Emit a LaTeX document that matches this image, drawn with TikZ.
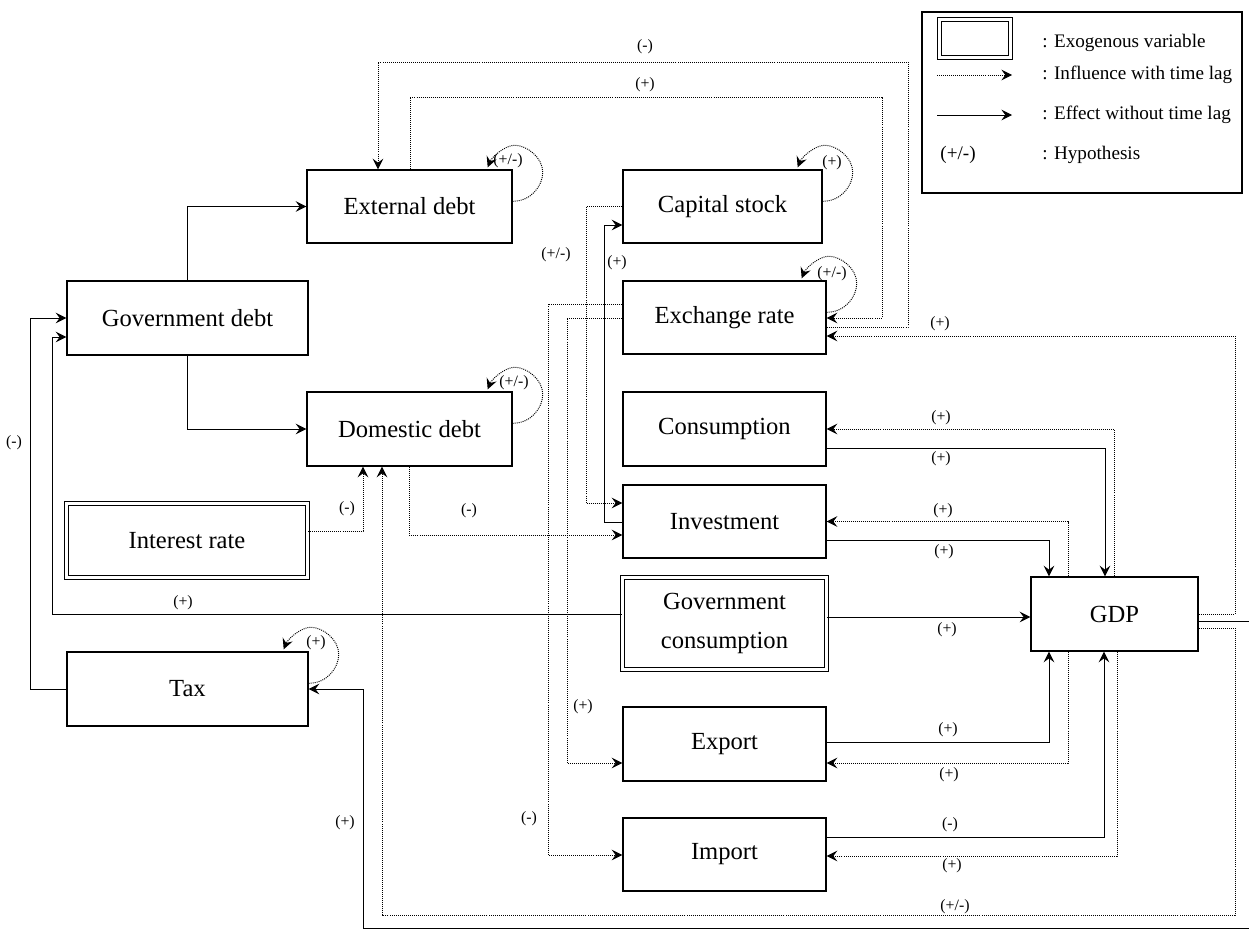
\documentclass[tikz,border=0pt]{standalone}
\usepackage{fontspec}
\setmainfont{Liberation Serif}
\usetikzlibrary{arrows.meta,calc}
\tikzset{
  box/.style={draw=black, line width=0.8pt, fill=white, inner sep=0pt, align=center,
    font=\fontsize{14}{16}\selectfont},
  exo/.style={box, double, double distance=1.6pt, line width=0.75pt},
  sz/.style 2 args={minimum width=#1*0.02cm, minimum height=#2*0.02cm},
  tip/.style={-{Stealth[length=6pt,width=6pt,inset=2.2pt]}},
  eff/.style={line width=0.55pt, tip},
  lag/.style={line width=0.55pt, dash pattern=on 0.55pt off 0.6pt, tip},
  lbl/.style={font=\fontsize{9}{10}\selectfont, inner sep=0pt},
  legt/.style={font=\fontsize{10.9}{13}\selectfont, inner sep=0pt},
}
\newcommand{\sloop}[1]{\draw[lag] ($(#1.north east)+(0,32)$) .. controls +(18,0) and +(0,14) .. ++(30,-29) .. controls +(0,-15) and +(12,0) .. ++(-28,-27) .. controls +(-10,0) and +(4,-10) .. ++(-27,22);}
\begin{document}
\begin{tikzpicture}[x=0.02cm,y=-0.02cm]
\useasboundingbox (0,0) rectangle (1249,930);
\clip (0,0) rectangle (1249,930);

% boxes
\node[box,sz={205}{73}] (ext) at (409.5,206.5) {External debt};
\node[box,sz={199}{73}] (cap) at (722.5,206.5) {Capital stock};
\node[box,sz={241}{74}] (gov) at (187.5,318) {Government debt};
\node[box,sz={203}{73}] (exr) at (724.5,317.5) {Exchange rate};
\node[box,sz={205}{74}] (dom) at (409.5,429) {Domestic debt};
\node[box,sz={203}{74}] (cons) at (724.5,429) {Consumption};
\node[box,sz={203}{73}] (inv) at (724.5,521.5) {Investment};
\node[exo,sz={241}{74}] (ir) at (187,540.5) {Interest rate};
\node[exo,sz={204}{92},font=\fontsize{14}{22}\selectfont] (gc) at (724.5,623.5) {Government\\consumption};
\node[box,sz={167}{74}] (gdp) at (1114.5,614) {GDP};
\node[box,sz={241}{74}] (tax) at (187.5,689) {Tax};
\node[box,sz={203}{74}] (exp) at (724.5,744) {Export};
\node[box,sz={203}{73}] (imp) at (724.5,854.5) {Import};

% self loops
\sloop{ext}
\sloop{cap}
\sloop{exr}
\sloop{dom}
\sloop{tax}

% government debt split
\draw[eff] (gov.north) |- (ext.west);
\draw[eff] (gov.south) |- (dom.west);
\draw[eff] (tax.west) -| (30,318) -- (gov.west);
\draw[eff] (gc.west |- 0,614) -| (52,337) -- (gov.west |- 0,337);

% interest rate and domestic debt
\draw[lag] (ir.east |- 0,531) -| (dom.south -| 363,0);
\draw[lag] (dom.south -| 409,0) |- (inv.west |- 0,535);
\draw[lag] (gdp.east |- 0,628) -| (1235,915) -| (dom.south -| 382,0);
\draw[eff] (gdp.east |- 0,621) -| (1262,928.8) -| (363,689) -- (tax.east);

% external debt <-> exchange rate
\draw[lag] (ext.north -| 410,0) |- (882,97) |- (exr.east |- 0,318);
\draw[lag] (exr.east |- 0,327) -| (908,62) -| (ext.north -| 378,0);
\draw[lag] (gdp.east |- 0,614) -| (1235,336) -- (exr.east |- 0,336);

% capital stock / investment
\draw[lag] (cap.west) -| (586,503) -- (inv.west |- 0,503);
\draw[eff] (inv.west |- 0,522) -| (604,225) -- (cap.west |- 0,225);

% exchange rate -> export / import
\draw[lag] (exr.west |- 0,304) -| (548,855) -- (imp.west |- 0,855);
\draw[lag] (exr.west |- 0,318) -| (567,763) -- (exp.west |- 0,763);

% GDP components
\draw[lag] (gdp.north -| 1114,0) |- (cons.east);
\draw[eff] (cons.east |- 0,448) -| (gdp.north -| 1105,0);
\draw[lag] (gdp.north -| 1068,0) |- (inv.east);
\draw[eff] (inv.east |- 0,540) -| (gdp.north -| 1049,0);
\draw[eff] (gc.east |- 0,617) -- (gdp.west |- 0,617);
\draw[eff] (exp.east |- 0,742) -| (gdp.south -| 1049,0);
\draw[lag] (gdp.south -| 1068,0) |- (exp.east |- 0,763);
\draw[eff] (imp.east |- 0,837) -| (gdp.south -| 1104,0);
\draw[lag] (gdp.south -| 1117,0) |- (imp.east |- 0,856);

% labels
\node[lbl] (l1) at (645,47) {(-)};
\node[lbl] (l2) at (645,85) {(+)};
\node[lbl] (l3) at (508,161) {(+/-)};
\node[lbl] (l4) at (832,163) {(+)};
\node[lbl] (l5) at (832,274) {(+/-)};
\node[lbl] (l6) at (514,383) {(+/-)};
\node[lbl] (l7) at (316,643) {(+)};
\node[lbl] (l8) at (556,255) {(+/-)};
\node[lbl] (l9) at (617,263) {(+)};
\node[lbl] (l10) at (940,324) {(+)};
\node[lbl] (l11) at (941,418) {(+)};
\node[lbl] (l12) at (941,459) {(+)};
\node[lbl] (l13) at (943,511) {(+)};
\node[lbl] (l14) at (944,552) {(+)};
\node[lbl] (l15) at (347,509) {(-)};
\node[lbl] (l16) at (469,511) {(-)};
\node[lbl] (l17) at (14,443) {(-)};
\node[lbl] (l18) at (183,603) {(+)};
\node[lbl] (l19) at (947,630) {(+)};
\node[lbl] (l20) at (583,707) {(+)};
\node[lbl] (l21) at (948,730) {(+)};
\node[lbl] (l22) at (949,775) {(+)};
\node[lbl] (l23) at (529,819) {(-)};
\node[lbl] (l24) at (950,825) {(-)};
\node[lbl] (l25) at (952,866) {(+)};
\node[lbl] (l26) at (345,823) {(+)};
\node[lbl] (l27) at (955,907) {(+/-)};

% legend
\node[draw=black, line width=0.8pt, fill=white, inner sep=0pt, sz={320}{181}] (leg) at (1082,102.5) {};
\node[exo,sz={71}{38}] (legexo) at (975,38.5) {};
\coordinate (la1) at (937,75);
\coordinate (la2) at (1012,75);
\draw[lag] (la1) -- (la2);
\coordinate (lb1) at (937,115);
\coordinate (lb2) at (1012,115);
\draw[eff] (lb1) -- (lb2);
\node[legt] (legh) at (958,155) {(+/-)};
\node[legt,anchor=west] (lt1) at (1042,43) {: Exogenous variable};
\node[legt,anchor=west] (lt2) at (1042,75) {: Influence with time lag};
\node[legt,anchor=west] (lt3) at (1042,115) {: Effect without time lag};
\node[legt,anchor=west] (lt4) at (1042,155) {: Hypothesis};
\end{tikzpicture}
\end{document}
